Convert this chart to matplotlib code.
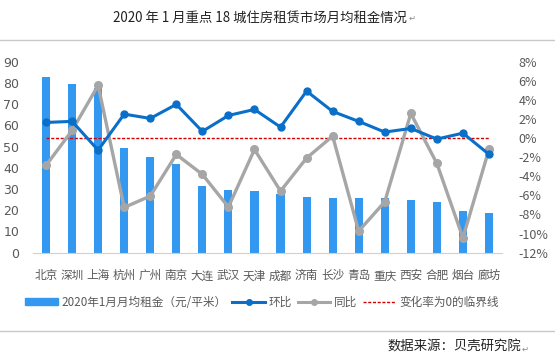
import matplotlib
matplotlib.use("Agg")
import matplotlib.pyplot as plt
from matplotlib.ticker import FuncFormatter
from matplotlib.lines import Line2D
from matplotlib.patches import Patch

plt.rcParams['font.family'] = ['Noto Sans CJK SC', 'DejaVu Sans']

cities = ["北京", "深圳", "上海", "杭州", "广州", "南京", "大连", "武汉", "天津",
          "成都", "济南", "长沙", "青岛", "重庆", "西安", "合肥", "烟台", "廊坊"]
rent = [82.9, 79.6, 77.8, 49.5, 45.2, 41.9, 31.6, 29.7, 29.2,
        27.8, 26.4, 25.9, 25.9, 25.9, 24.8, 23.9, 19.7, 18.8]
mom = [1.64, 1.75, -1.26, 2.51, 2.06, 3.53, 0.70, 2.37, 3.0,
       1.15, 4.92, 2.79, 1.75, 0.63, 1.01, -0.1, 0.52, -1.7]
yoy = [-2.86, 0.80, 5.52, -7.26, -6.07, -1.71, -3.80, -7.22, -1.19,
       -5.55, -2.09, 0.21, -9.74, -6.67, 2.58, -2.65, -10.44, -1.19]
zero_line = [0] * 18

left_ticks = [0, 10, 20, 30, 40, 50, 60, 70, 80, 90]
right_ticks = [-12, -10, -8, -6, -4, -2, 0, 2, 4, 6, 8]

title = "2020 年 1 月重点 18 城住房租赁市场月均租金情况"
source = "数据来源：贝壳研究院"
lbl_rent = "2020年1月月均租金（元/平米）"
lbl_mom = "环比"
lbl_yoy = "同比"
lbl_zero = "变化率为0的临界线"

bar_c = "#3399F0"
mom_c = "#0A6FC8"
yoy_c = "#A6A6A6"
red_c = "#D40000"
txt_c = "#595959"

fig = plt.figure(figsize=(5.55, 3.59), dpi=100)
ax = fig.add_axes([33/555, 1-252.7/359, (502-33)/555, (252.7-61.7)/359])
ax2 = ax.twinx()

x = list(range(len(cities)))
ax.bar(x, rent, width=0.31, color=bar_c, zorder=1)
ax.set_xlim(-0.5, len(cities)-0.5)
ax.set_ylim(0, 90)
ax.set_yticks(left_ticks)
ax.set_xticks(x)
ax.set_xticklabels(cities, fontsize=8.4, color=txt_c)
ax.tick_params(axis='both', length=0, colors=txt_c, labelsize=9)
ax.tick_params(axis='x', pad=12, labelsize=8.4)
ax.tick_params(axis='y', pad=10)
for lab in ax.get_yticklabels():
    lab.set_family(['DejaVu Sans'])

ax2.plot(x, zero_line, color=red_c, lw=1.0, ls=(0, (2.2, 1.2)), zorder=2)
ax2.plot(x, mom, color=mom_c, lw=2.2, marker='o', ms=5, zorder=4)
ax2.plot(x, yoy, color=yoy_c, lw=2.4, marker='o', ms=5.5, zorder=3)
ax2.set_ylim(-12, 8)
ax2.set_yticks(right_ticks)
ax2.yaxis.set_major_formatter(FuncFormatter(lambda v, p: f"{int(v)}%"))
ax2.tick_params(axis='y', length=0, colors=txt_c, labelsize=9, pad=12)

for a in (ax, ax2):
    for s in ('top', 'left', 'right'):
        a.spines[s].set_visible(False)
    a.spines['bottom'].set_color('#D0D0D0')
ax2.spines['bottom'].set_visible(False)

handles = [Patch(color=bar_c),
           Line2D([], [], color=mom_c, lw=2.2, marker='o', ms=4),
           Line2D([], [], color=yoy_c, lw=2.2, marker='o', ms=4),
           Line2D([], [], color=red_c, lw=1.0, ls=(0, (2.2, 1.2)))]
leg = fig.legend(handles, [lbl_rent, lbl_mom, lbl_yoy, lbl_zero],
                 loc='center', bbox_to_anchor=(262/555, 1-302/359), ncol=4,
                 frameon=False, fontsize=8.4, handlelength=2.8, handletextpad=0.3,
                 columnspacing=0.5, handleheight=0.6)
for t in leg.get_texts():
    t.set_color(txt_c)

fig.text(260/555, 1-18/359, title, ha='center', va='center', fontsize=9.6, color='#222222')
fig.text(409/555, 1-18/359, "↵", ha='left', va='center', fontsize=6, color='#888888',
         family=['DejaVu Sans'])
fig.text(521/555, 1-347/359, source, ha='right', va='center', fontsize=9.6, color='#222222')
fig.text(522/555, 1-349/359, "↵", ha='left', va='center', fontsize=6, color='#888888',
         family=['DejaVu Sans'])
fig.add_artist(Line2D([0, 1], [1-40/359, 1-40/359], color='#C8C8C8', lw=1, transform=fig.transFigure))
fig.add_artist(Line2D([0, 1], [1-331/359, 1-331/359], color='#C8C8C8', lw=1, transform=fig.transFigure))

fig.savefig("out.png", dpi=100)
